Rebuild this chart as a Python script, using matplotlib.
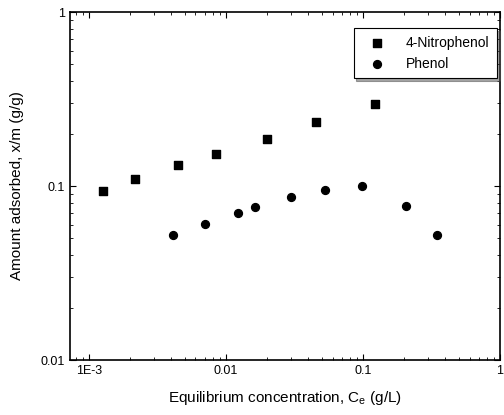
import matplotlib.pyplot as plt
from matplotlib.ticker import FixedLocator, LogLocator, NullFormatter

plt.rcParams['font.family'] = ['Liberation Sans', 'DejaVu Sans']

# 4-Nitrophenol
nitro_ce = [0.00126, 0.00219, 0.00449, 0.00847, 0.0201, 0.0456, 0.122]
nitro_xm = [0.0936, 0.110, 0.132, 0.153, 0.186, 0.233, 0.296]

# Phenol
phenol_ce = [0.00413, 0.00705, 0.0122, 0.0162, 0.0301, 0.0531, 0.0985, 0.205, 0.349]
phenol_xm = [0.0523, 0.0605, 0.070, 0.0757, 0.0865, 0.0948, 0.100, 0.0767, 0.0523]

x_ticks = [0.001, 0.01, 0.1, 1]
x_labels = ['1E-3', '0.01', '0.1', '1']
y_ticks = [0.01, 0.1, 1]
y_labels = ['0.01', '0.1', '1']

fig = plt.figure(figsize=(5.04, 4.15), dpi=100)
ax = fig.add_axes([0.139, 0.1325, 0.853, 0.8385])

ax.scatter(nitro_ce, nitro_xm, marker='s', s=30, c='black', label='4-Nitrophenol')
ax.scatter(phenol_ce, phenol_xm, marker='o', s=32, c='black', label='Phenol')

ax.set_xscale('log')
ax.set_yscale('log')
ax.set_xlim(0.00073, 1)
ax.set_ylim(0.01, 1)

ax.xaxis.set_major_locator(FixedLocator(x_ticks))
ax.set_xticklabels(x_labels)
ax.yaxis.set_major_locator(FixedLocator(y_ticks))
ax.set_yticklabels(y_labels)
ax.xaxis.set_minor_locator(LogLocator(base=10, subs=range(2, 10)))
ax.yaxis.set_minor_locator(LogLocator(base=10, subs=range(2, 10)))
ax.xaxis.set_minor_formatter(NullFormatter())
ax.yaxis.set_minor_formatter(NullFormatter())

ax.tick_params(which='both', direction='in', top=True, right=True, labelsize=9)
ax.tick_params(which='major', length=4)
ax.tick_params(which='minor', length=2)
for s in ax.spines.values():
    s.set_linewidth(1.2)

ax.set_xlabel('Equilibrium concentration, C$_\\mathregular{e}$ (g/L)', fontsize=11, labelpad=9)
ax.set_ylabel('Amount adsorbed, x/m (g/g)', fontsize=11, labelpad=12)

leg = ax.legend(loc='upper right', bbox_to_anchor=(0.993, 0.954), borderaxespad=0,
                shadow=True, fancybox=False, fontsize=10, edgecolor='black',
                framealpha=1, handletextpad=1.0, borderpad=0.55, handlelength=2.2)
leg.get_frame().set_linewidth(0.8)

fig.savefig('out.png', dpi=100)
